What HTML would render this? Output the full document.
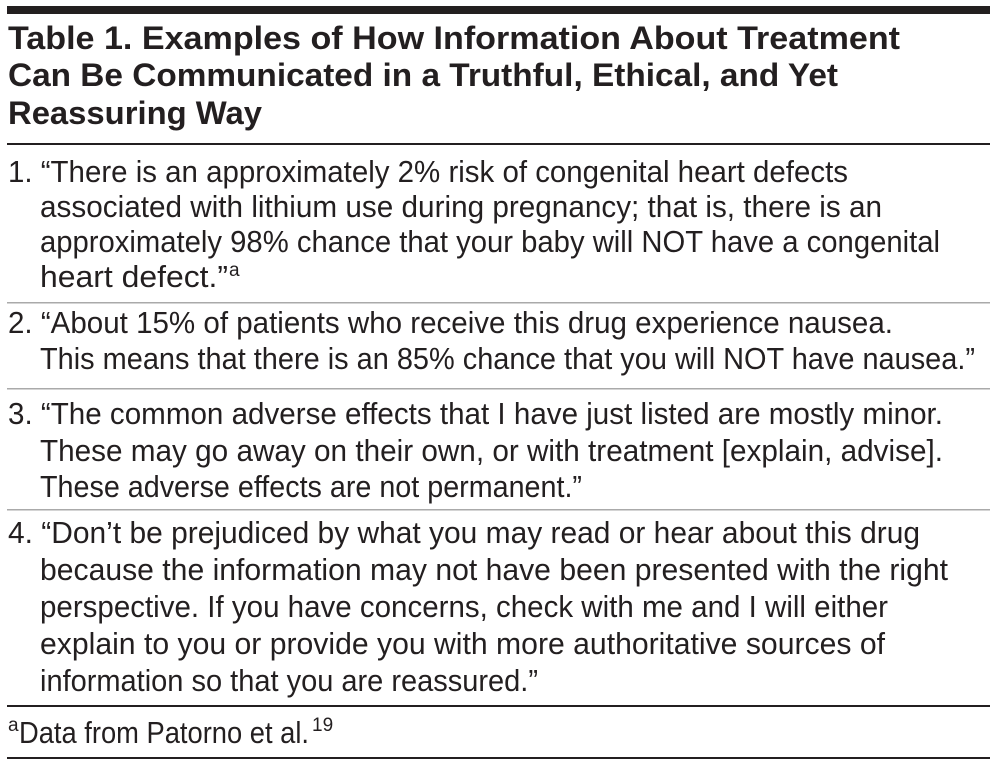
<!DOCTYPE html>
<html><head><meta charset="utf-8"><style>
html,body{margin:0;padding:0;background:#fff;}
svg{display:block;}
text{font-family:"Liberation Sans",sans-serif;fill:#231f20;}
.t{font-weight:bold;font-size:32px;}
.b{font-size:31px;}
</style></head><body>
<svg width="996" height="767" viewBox="0 0 996 767" xmlns="http://www.w3.org/2000/svg">
<rect x="7" y="6" width="983" height="8" fill="#231f20"/>
<text class="t" x="8" y="49" textLength="892" lengthAdjust="spacingAndGlyphs">Table 1. Examples of How Information About Treatment</text>
<text class="t" x="8" y="86" textLength="830" lengthAdjust="spacingAndGlyphs">Can Be Communicated in a Truthful, Ethical, and Yet</text>
<text class="t" x="8" y="124" textLength="254" lengthAdjust="spacingAndGlyphs">Reassuring Way</text>
<rect x="7" y="143" width="983" height="2" fill="#231f20"/>

<text class="b" x="8" y="182" textLength="840" lengthAdjust="spacingAndGlyphs">1. “There is an approximately 2% risk of congenital heart defects</text>
<text class="b" x="40" y="217" textLength="842" lengthAdjust="spacingAndGlyphs">associated with lithium use during pregnancy; that is, there is an</text>
<text class="b" x="40" y="252" textLength="900" lengthAdjust="spacingAndGlyphs">approximately 98% chance that your baby will NOT have a congenital</text>
<text class="b" x="40" y="287" textLength="188" lengthAdjust="spacingAndGlyphs">heart defect.”</text>
<text x="229" y="276" style="font-size:19px">a</text>
<rect x="7" y="302" width="983" height="1.5" fill="#aaa"/>

<text class="b" x="8" y="333" textLength="885" lengthAdjust="spacingAndGlyphs">2. “About 15% of patients who receive this drug experience nausea.</text>
<text class="b" x="40" y="369" textLength="935" lengthAdjust="spacingAndGlyphs">This means that there is an 85% chance that you will NOT have nausea.”</text>
<rect x="7" y="388" width="983" height="1.5" fill="#aaa"/>

<text class="b" x="8" y="424" textLength="935" lengthAdjust="spacingAndGlyphs">3. “The common adverse effects that I have just listed are mostly minor.</text>
<text class="b" x="40" y="461" textLength="903" lengthAdjust="spacingAndGlyphs">These may go away on their own, or with treatment [explain, advise].</text>
<text class="b" x="40" y="497" textLength="542" lengthAdjust="spacingAndGlyphs">These adverse effects are not permanent.”</text>
<rect x="7" y="509" width="983" height="1.5" fill="#aaa"/>

<text class="b" x="8" y="543" textLength="912" lengthAdjust="spacingAndGlyphs">4. “Don’t be prejudiced by what you may read or hear about this drug</text>
<text class="b" x="40" y="580" textLength="908" lengthAdjust="spacingAndGlyphs">because the information may not have been presented with the right</text>
<text class="b" x="40" y="617" textLength="848" lengthAdjust="spacingAndGlyphs">perspective. If you have concerns, check with me and I will either</text>
<text class="b" x="40" y="654" textLength="845" lengthAdjust="spacingAndGlyphs">explain to you or provide you with more authoritative sources of</text>
<text class="b" x="40" y="691" textLength="498" lengthAdjust="spacingAndGlyphs">information so that you are reassured.”</text>
<rect x="7" y="705" width="983" height="2" fill="#231f20"/>

<text x="8" y="731" style="font-size:19px">a</text>
<text class="b" x="19" y="743" textLength="290" lengthAdjust="spacingAndGlyphs">Data from Patorno et al.</text>
<text x="312" y="731" style="font-size:19px">19</text>
<rect x="7" y="757" width="983" height="2" fill="#231f20"/>
</svg>
</body></html>
